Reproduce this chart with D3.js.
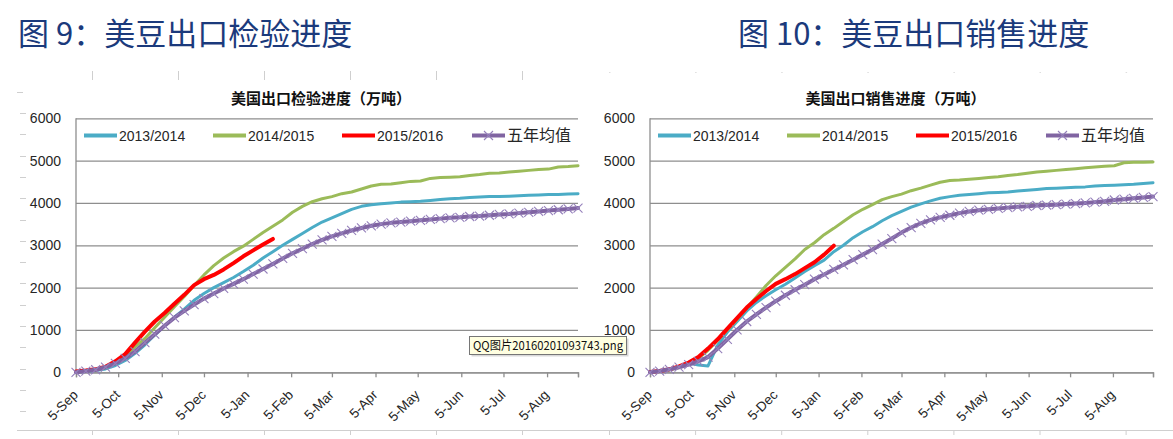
<!DOCTYPE html>
<html><head><meta charset="utf-8">
<script src="https://cdn.jsdelivr.net/npm/d3@7"></script>
<style>
body{margin:0;background:#fff;}
svg{display:block;}
</style></head>
<body>
<svg id="c" width="1173" height="439"></svg>
<script>
// ---------- data ----------
const tickLabels = ["5-Sep","5-Oct","5-Nov","5-Dec","5-Jan","5-Feb","5-Mar","5-Apr","5-May","5-Jun","5-Jul","5-Aug"];
const yTicks = [0,1000,2000,3000,4000,5000,6000];
const seriesNames = ["2013/2014","2014/2015","2015/2016","五年均值"];
const seriesColors = ["#4bacc6","#9bbb59","#ff0000","#8064a2"];

// 图9 美国出口检验进度（万吨）, weekly from 5-Sep
const inspect1314 = [10,20,40,80,160,280,450,650,880,1100,1300,1490,1700,1860,2000,2120,2240,2380,2530,2700,2850,3000,3140,3280,3420,3550,3650,3750,3850,3920,3960,3980,4000,4020,4030,4040,4060,4080,4100,4110,4130,4140,4150,4150,4160,4170,4180,4190,4200,4200,4210,4220];
const inspect1415 = [10,30,60,110,220,380,600,800,1050,1300,1550,1790,2050,2300,2520,2700,2850,2980,3140,3300,3450,3600,3780,3920,4030,4100,4150,4220,4260,4330,4400,4440,4450,4480,4510,4520,4580,4600,4610,4620,4650,4670,4700,4710,4730,4750,4770,4790,4800,4850,4860,4880];
const inspect1516 = [20,40,70,130,260,430,700,960,1200,1400,1620,1830,2060,2200,2300,2430,2580,2740,2880,3020,3150];
const inspectAvg  = [0,30,60,120,210,330,490,700,900,1100,1290,1450,1600,1740,1860,1980,2090,2200,2320,2440,2560,2690,2810,2920,3030,3130,3210,3280,3350,3410,3460,3500,3530,3550,3570,3590,3610,3630,3650,3660,3680,3690,3710,3730,3740,3760,3780,3800,3820,3840,3860,3880];

// 图10 美国出口销售进度（万吨）, weekly from 5-Sep
const sales1314 = [10,30,60,130,220,170,150,640,950,1200,1450,1650,1810,1950,2080,2230,2380,2520,2650,2850,3000,3180,3320,3440,3580,3700,3800,3900,3980,4050,4110,4150,4180,4200,4220,4240,4250,4260,4280,4300,4320,4340,4350,4360,4370,4380,4400,4410,4420,4430,4440,4460,4480];
const sales1415 = [10,30,60,110,200,330,520,760,1000,1250,1520,1780,2050,2280,2480,2680,2900,3060,3250,3400,3560,3720,3850,3960,4080,4150,4210,4290,4350,4420,4490,4530,4540,4560,4580,4600,4620,4650,4670,4700,4730,4750,4770,4790,4810,4830,4850,4870,4880,4950,4960,4960,4970];
const sales1516 = [10,30,70,140,230,360,560,780,1030,1280,1530,1730,1920,2090,2200,2320,2460,2600,2780,2990];
const salesAvg  = [0,30,70,120,180,260,360,560,780,1000,1200,1370,1530,1680,1820,1950,2070,2200,2310,2430,2540,2660,2780,2900,3030,3160,3300,3420,3520,3600,3660,3710,3760,3800,3830,3850,3870,3890,3910,3920,3940,3950,3960,3975,3985,4000,4020,4040,4070,4090,4110,4130,4150];

// ---------- drawing ----------
const svg = d3.select("#c");
const latin = "'Liberation Sans', Arial, sans-serif";
const cjk = "'Noto Sans CJK SC', 'Noto Sans', sans-serif";

const startDate = new Date(2015, 8, 5);
const parseTick = d3.timeParse("%d-%b-%Y");
const tickDates = tickLabels.map(l => {
  const d = parseTick(l + "-2015");
  return d.getMonth() >= 8 ? d : parseTick(l + "-2016");
});

// decorative page frame marks (document ruler / image frame)
const frame = svg.append("g").attr("stroke", "#cfcfcf").attr("stroke-width", 1);
d3.range(6).forEach(i => {
  const xx = 92 + i * 86;
  frame.append("line").attr("x1", xx + .5).attr("x2", xx + .5).attr("y1", 71).attr("y2", 80);
  frame.append("line").attr("x1", xx + .5).attr("x2", xx + .5).attr("y1", 430.5).attr("y2", 435);
});
d3.range(7).forEach(i => {
  const xx = 609 + i * 86.1;
  frame.append("line").attr("x1", xx).attr("x2", xx + 1.5).attr("y1", 72.5).attr("y2", 72.5).attr("stroke", "#dedede");
  frame.append("line").attr("x1", xx + .5).attr("x2", xx + .5).attr("y1", 430.5).attr("y2", 435);
});
frame.append("line").attr("x1", 17).attr("x2", 23).attr("y1", 92.5).attr("y2", 92.5);
d3.range(15).forEach(i => {
  const yy = Math.round(113 + i * 21.3) + .5;
  frame.append("line").attr("x1", 20).attr("x2", 26).attr("y1", yy).attr("y2", yy);
});
frame.append("line").attr("x1", 17).attr("x2", 1173).attr("y1", 430.5).attr("y2", 430.5);

function drawChart(x0, x1, pageTitle, titleX, chartTitle, data) {
  const g = svg.append("g");
  const nWeeks = d3.max(data, d => d.length);
  const endDate = d3.timeDay.offset(startDate, 7 * (nWeeks - 1));
  const x = d3.scaleTime().domain([startDate, endDate]).range([x0, x1]);
  const y = d3.scaleLinear().domain([0, 6000]).range([372.3, 118.3]);

  // page title
  g.append("text").attr("x", titleX).attr("y", 45)
    .attr("font-family", cjk).attr("font-size", 31).attr("fill", "#1b3a7c")
    .text(pageTitle);

  // chart title
  g.append("text").attr("x", (x0 + x1) / 2 - 6).attr("y", 104)
    .attr("text-anchor", "middle").attr("font-family", cjk).attr("font-weight", "bold")
    .attr("font-size", 15).attr("fill", "#111").text(chartTitle);

  // y grid + labels
  g.append("g").attr("transform", `translate(${x0},0)`)
    .call(d3.axisLeft(y).tickValues(yTicks).tickSize(-(x1 - x0)).tickPadding(15).tickFormat(d3.format("d")))
    .call(s => s.select(".domain").remove())
    .call(s => s.selectAll("line").attr("stroke", "#8e8e8e").attr("stroke-width", 1.3))
    .call(s => s.selectAll("text").attr("font-family", latin).attr("font-size", 14).attr("fill", "#262626"));

  // y axis line
  g.append("line").attr("x1", x0).attr("x2", x0).attr("y1", y(6000)).attr("y2", y(0))
    .attr("stroke", "#8e8e8e").attr("stroke-width", 1.3);

  // x axis
  g.append("g").attr("transform", `translate(0,${y(0)})`)
    .call(d3.axisBottom(x).tickValues(tickDates.concat([endDate])).tickSize(5)
      .tickFormat((d, i) => tickLabels[i] || ""))
    .call(s => s.select(".domain").attr("stroke", "#8e8e8e").attr("stroke-width", 1.3))
    .call(s => s.selectAll("line").attr("stroke", "#8e8e8e").attr("stroke-width", 1.3))
    .call(s => s.selectAll("text").attr("font-family", latin).attr("font-size", 13.5).attr("fill", "#262626")
      .attr("text-anchor", "end").attr("x", 0).attr("y", 0).attr("dy", "0.35em")
      .attr("transform", "translate(-1,20) rotate(-45)"));

  const widths = [3, 3, 4, 4];
  const line = d3.line()
    .x((d, i) => x(d3.timeDay.offset(startDate, 7 * i)))
    .y(d => y(d));

  data.forEach((arr, k) => {
    g.append("path").datum(arr).attr("d", line).attr("fill", "none")
      .attr("stroke", seriesColors[k]).attr("stroke-width", widths[k])
      .attr("stroke-linejoin", "round").attr("stroke-linecap", "round");
  });
  // X markers on five-year average
  const avg = data[3];
  g.append("g").selectAll("path").data(avg).join("path")
    .attr("transform", (d, i) => `translate(${x(d3.timeDay.offset(startDate, 7 * i))},${y(d)})`)
    .attr("d", "M-4.5,-4.5L4.5,4.5M-4.5,4.5L4.5,-4.5")
    .attr("stroke", "#9580bb").attr("stroke-width", 1.1).attr("fill", "none");

  // legend
  const offs = [8, 137, 266, 396];
  const ly = 135.5;
  seriesNames.forEach((name, k) => {
    const lx = x0 + offs[k];
    g.append("line").attr("x1", lx).attr("x2", lx + 33).attr("y1", ly).attr("y2", ly)
      .attr("stroke", seriesColors[k]).attr("stroke-width", 4);
    if (k === 3) {
      g.append("path").attr("transform", `translate(${lx + 16.5},${ly})`)
        .attr("d", "M-4.5,-4.5L4.5,4.5M-4.5,4.5L4.5,-4.5").attr("stroke", "#9580bb").attr("stroke-width", 1.1);
    }
    g.append("text").attr("x", lx + 35).attr("y", ly + 5)
      .attr("font-family", k === 3 ? cjk : latin).attr("font-size", k === 3 ? 16 : 14)
      .attr("fill", "#262626").text(name);
  });
}

drawChart(76, 578, "图 9：美豆出口检验进度", 18, "美国出口检验进度（万吨）",
  [inspect1314, inspect1415, inspect1516, inspectAvg]);
drawChart(650, 1153, "图 10：美豆出口销售进度", 738, "美国出口销售进度（万吨）",
  [sales1314, sales1415, sales1516, salesAvg]);

// tooltip overlay
const tip = svg.append("g");
tip.append("rect").attr("x", 471.5).attr("y", 338.5).attr("width", 157).attr("height", 18)
  .attr("fill", "#000").attr("opacity", 0.15);
tip.append("rect").attr("x", 469.5).attr("y", 336.5).attr("width", 157).attr("height", 18)
  .attr("fill", "#ffffe1").attr("stroke", "#767676");
tip.append("text").attr("x", 473).attr("y", 350).attr("font-family", cjk).attr("font-size", 12)
  .attr("fill", "#111").attr("textLength", 150).attr("lengthAdjust", "spacingAndGlyphs")
  .text("QQ图片20160201093743.png");
</script>
</body></html>
